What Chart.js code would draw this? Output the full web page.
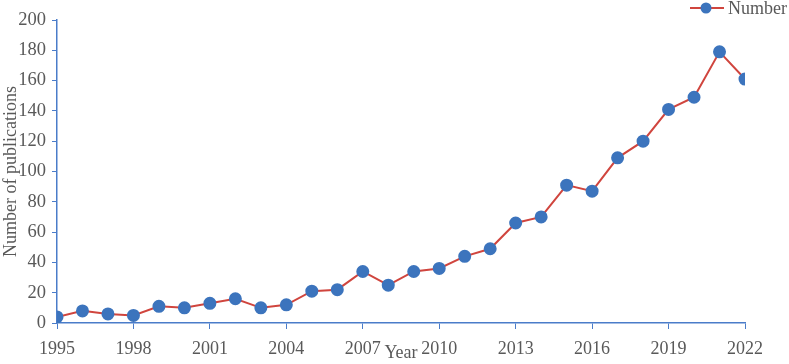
<!DOCTYPE html>
<html>
<head>
<meta charset="utf-8">
<script src="https://cdn.jsdelivr.net/npm/chart.js@4"></script>
<style>
  html, body { margin: 0; padding: 0; background: #fff; }
  #wrap { width: 789px; height: 364px; }
</style>
</head>
<body>
<div id="wrap"><canvas id="myChart"></canvas></div>
<script>
const years = [1995, 1996, 1997, 1998, 1999, 2000, 2001, 2002, 2003, 2004, 2005, 2006, 2007, 2008,
    2009, 2010, 2011, 2012, 2013, 2014, 2015, 2016, 2017, 2018, 2019, 2020, 2021, 2022];
const counts = [4, 8, 6, 5, 11, 10, 13, 16, 10, 12, 21, 22, 34, 25,
    34, 36, 44, 49, 66, 70, 91, 87, 109, 120, 141, 149, 179, 161];
const seriesName = 'Number';

const textColor = '#595959';
const axisColor = '#4A7CC9';
const lineColor = '#D0453E';
const pointColor = '#3C74BD';
const fontFamily = '"Liberation Serif", "Times New Roman", serif';

// legend drawn by hand so it sits in the top right corner above the plot
const cornerLegend = {
    id: 'cornerLegend',
    afterDraw(chart) {
        const c = chart.ctx;
        c.save();
        c.strokeStyle = lineColor;
        c.lineWidth = 2;
        c.beginPath();
        c.moveTo(690, 8);
        c.lineTo(724, 8);
        c.stroke();
        c.fillStyle = pointColor;
        c.beginPath();
        c.arc(706, 8, 5.5, 0, Math.PI * 2);
        c.fill();
        c.fillStyle = textColor;
        c.font = '18px ' + fontFamily;
        c.textBaseline = 'middle';
        c.fillText(seriesName, 728, 9);
        c.restore();
    }
};

const ctx = document.getElementById('myChart');

new Chart(ctx, {
    type: 'line',
    data: {
        datasets: [{
            label: seriesName,
            data: years.map((y, i) => ({ x: y, y: counts[i] })),
            borderColor: lineColor,
            borderWidth: 2,
            pointBackgroundColor: pointColor,
            pointBorderColor: pointColor,
            pointRadius: 5.5,
            tension: 0
        }]
    },
    options: {
        responsive: true,
        maintainAspectRatio: false,
        animation: false,
        layout: { padding: { top: 20, right: 44, left: 0, bottom: 0 } },
        plugins: {
            legend: { display: false },
            tooltip: { enabled: false }
        },
        scales: {
            x: {
                type: 'linear',
                min: 1995,
                max: 2022,
                ticks: {
                    stepSize: 3,
                    color: textColor,
                    font: { family: fontFamily, size: 18 },
                    padding: 9,
                    maxRotation: 0,
                    callback: v => String(v)
                },
                grid: { drawOnChartArea: false, drawTicks: true, tickLength: 6, color: axisColor },
                border: { color: axisColor, width: 1.5 },
                title: {
                    display: true,
                    text: 'Year',
                    color: textColor,
                    font: { family: fontFamily, size: 18 },
                    padding: 0
                },
                afterFit(scale) { scale.height = 41; }
            },
            y: {
                min: 0,
                max: 200,
                ticks: {
                    stepSize: 20,
                    color: textColor,
                    font: { family: fontFamily, size: 18.5 },
                    padding: 6
                },
                grid: { drawOnChartArea: false, drawTicks: true, tickLength: 5, color: axisColor },
                border: { color: axisColor, width: 1.5 },
                title: {
                    display: true,
                    text: 'Number of publications',
                    color: textColor,
                    font: { family: fontFamily, size: 18 },
                    padding: 0
                },
                afterFit(scale) { scale.width = 57; }
            }
        }
    },
    plugins: [cornerLegend]
});
</script>
</body>
</html>
